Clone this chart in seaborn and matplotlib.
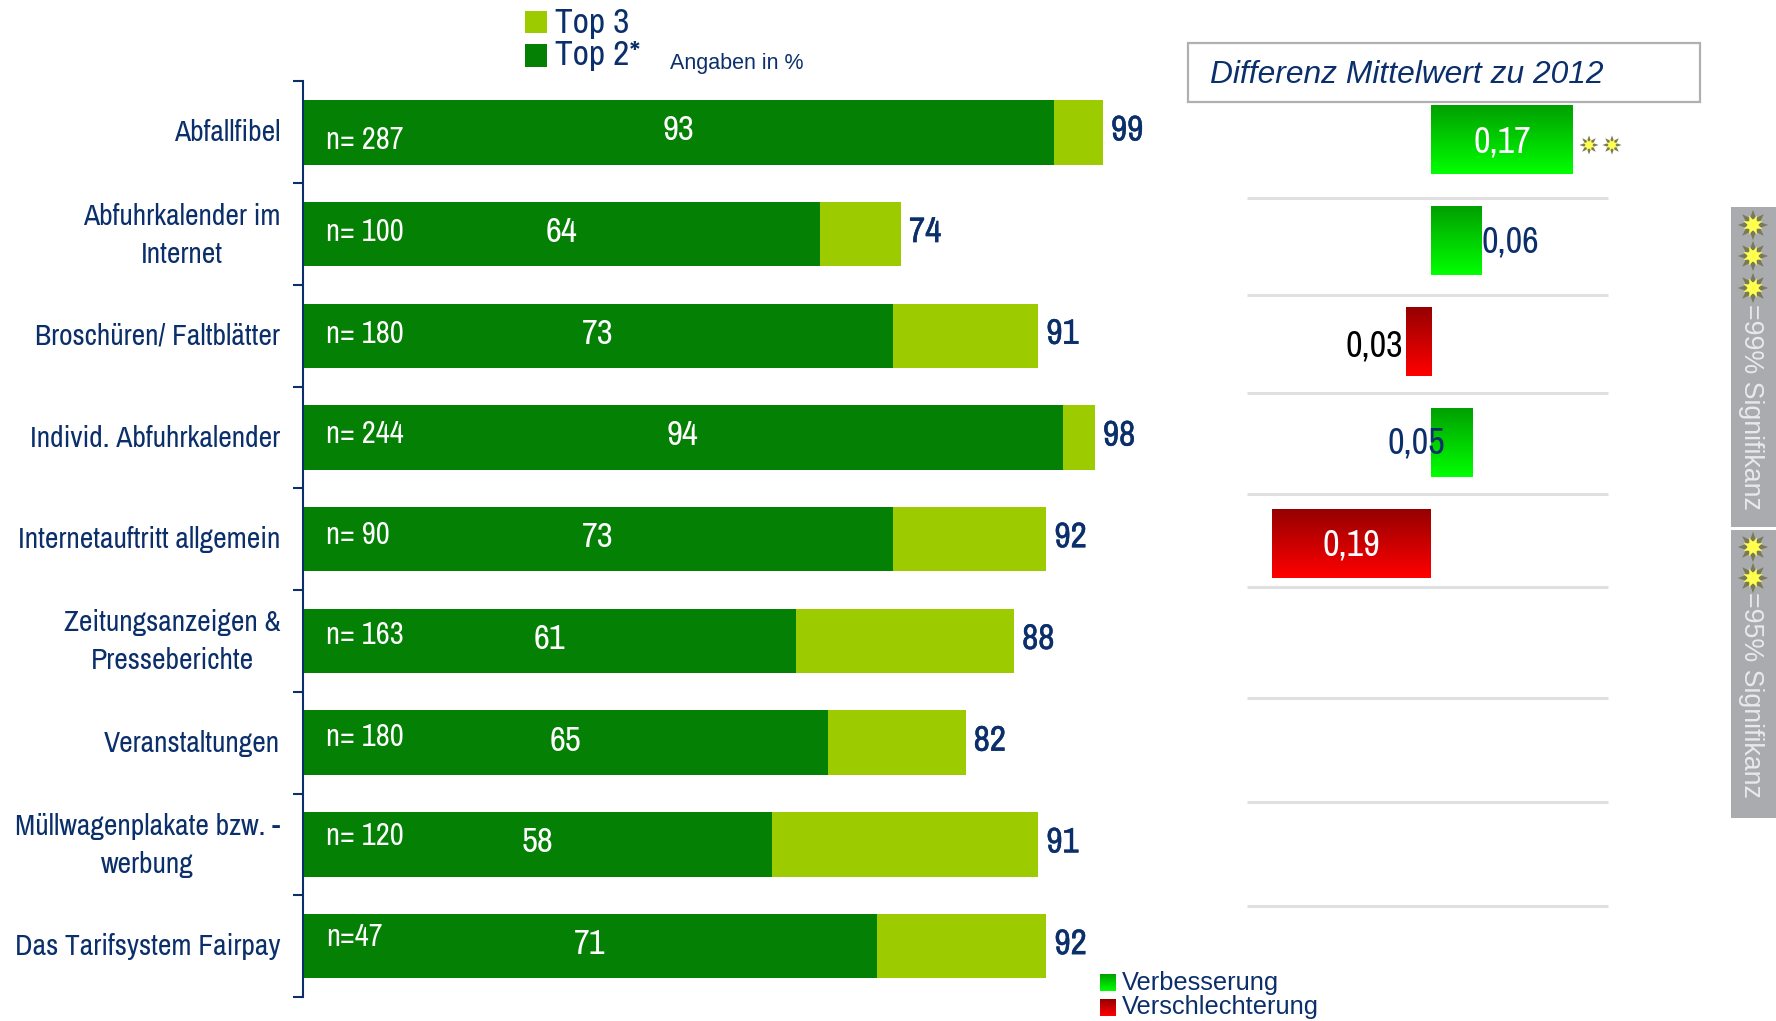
import numpy as np
import pandas as pd
import seaborn as sns
from matplotlib import pyplot as plt
from matplotlib import font_manager
from matplotlib import patheffects
from matplotlib.colors import LinearSegmentedColormap
from matplotlib.patches import Rectangle
from matplotlib.transforms import ScaledTranslation

# data
kategorien = ['Abfallfibel', 'Abfuhrkalender im\nInternet', 'Broschüren/ Faltblätter',
              'Individ. Abfuhrkalender', 'Internetauftritt allgemein',
              'Zeitungsanzeigen &\nPresseberichte', 'Veranstaltungen',
              'Müllwagenplakate bzw. -\nwerbung', 'Das Tarifsystem Fairpay']
top2 = [93, 64, 73, 94, 73, 61, 65, 58, 71]
top3 = [99, 74, 91, 98, 92, 88, 82, 91, 92]
n_text = ['n= 287', 'n= 100', 'n= 180', 'n= 244', 'n= 90', 'n= 163', 'n= 180', 'n= 120', 'n=47']
differenz = [0.17, 0.06, -0.03, 0.05, -0.19, np.nan, np.nan, np.nan, np.nan]
diff_text = ['0,17', '0,06', '0,03', '0,05', '0,19']

# layout, in pixels of the reference
n_versatz = [8, -2, -2, -4, -4, -6, -6, -8, -9]
trenner_y = [198, 295, 393, 494, 587, 698, 802, 906]

NAVY = '#0B2F6B'
DUNKEL = '#048004'
HELL = '#9CCC00'
GRAU = '#A9ABAF'
W, H = 1776, 1021

sns.set_style('white')
namen = {f.name for f in font_manager.fontManager.ttflist}
SCHMAL = next((n for n in ['Archivo Narrow', 'PT Sans Narrow', 'Roboto Condensed', 'Roboto'] if n in namen), 'DejaVu Sans')
plt.rcParams['font.family'] = ['Liberation Sans', 'DejaVu Sans']

gruen = LinearSegmentedColormap.from_list('gruen', ['#00A000', '#00FF00'])
rot = LinearSegmentedColormap.from_list('rot', ['#960000', '#FF0000'])
verlauf = np.linspace(0, 1, 64).reshape(-1, 1)

df = pd.DataFrame({'kat': kategorien, 'top2': top2, 'top3': top3, 'diff': differenz})

fig = plt.figure(figsize=(W / 100, H / 100), dpi=100, facecolor='white')


def achse(x0, y0, x1, y1):
    return fig.add_axes([x0 / W, 1 - y1 / H, (x1 - x0) / W, (y1 - y0) / H])


def sterne(xs, ys, groesse):
    # grey spikes with a yellow centre
    deko.scatter(xs, ys, marker=(8, 1, 0), s=groesse, facecolor='#7A7A58', edgecolor='none')
    deko.scatter(xs, ys, marker=(8, 1, 22.5), s=groesse * 0.45, facecolor='#FFFF50', edgecolor='none')
    deko.scatter(xs, ys, marker='o', s=groesse * 0.13, facecolor='#FFFF50', edgecolor='none')


# overlay in pixel coordinates for box, legends and stars
deko = fig.add_axes([0, 0, 1, 1], zorder=5)
deko.set_xlim(0, W)
deko.set_ylim(H, 0)
deko.axis('off')
deko.patch.set_alpha(0)

# left chart: total behind, top 2 in front
ax = achse(303, 81.5, 1111, 997)
sns.barplot(data=df, y='kat', x='top3', color=HELL, saturation=1, width=0.634, linewidth=0, ax=ax)
sns.barplot(data=df, y='kat', x='top2', color=DUNKEL, saturation=1, width=0.634, linewidth=0, ax=ax)
ax.set_xlim(0, 100)
ax.set_ylim(8.5, -0.5)
ax.set_xlabel('')
ax.set_ylabel('')
ax.set_xticks([])
for s in ['top', 'right', 'bottom']:
    ax.spines[s].set_visible(False)
ax.spines['left'].set_color(NAVY)
ax.spines['left'].set_linewidth(1.5)
ax.set_yticks(np.arange(-0.5, 9), minor=True)
ax.tick_params(axis='y', which='minor', left=True, length=7, width=1.5, color=NAVY)
ax.tick_params(axis='y', which='major', left=False, pad=12.8)
for lab in ax.get_yticklabels():
    lab.set_fontfamily(SCHMAL)
    lab.set_fontsize(21.3)
    lab.set_color(NAVY)
    lab.set_multialignment('center')
    lab.set_linespacing(1.5)
    hoch = 7 if '\n' in lab.get_text() else 2
    lab.set_transform(lab.get_transform() + ScaledTranslation(0, hoch / 100, fig.dpi_scale_trans))

for i in range(len(kategorien)):
    ax.text(top2[i] / 2, i - 0.02, str(top2[i]), color='white', ha='center', va='center',
            fontsize=25, family=SCHMAL)
    ax.text(top3[i] + 1, i - 0.02, str(top3[i]), color=NAVY, ha='left', va='center',
            fontsize=25.5, family=SCHMAL,
            path_effects=[patheffects.withStroke(linewidth=0.35, foreground=NAVY)])
    ax.text(2.85, i + n_versatz[i] / 101.7, n_text[i], color='white', ha='left', va='center',
            fontsize=22, family=SCHMAL)

# right chart
ax2 = achse(1247, 89, 1608, 999)
sns.barplot(data=df, y='kat', x='diff', color='white', width=0.68, linewidth=0, ax=ax2)
ax2.axis('off')
for p in ax2.patches:
    b = p.get_width()
    if np.isnan(b) or b == 0:
        continue
    p.set_visible(False)
    ax2.imshow(verlauf, cmap=gruen if b > 0 else rot, aspect='auto', interpolation='bilinear',
               extent=(p.get_x(), p.get_x() + b, p.get_y() + p.get_height(), p.get_y()))
ax2.set_xlim(-184 / 835, 177 / 835)
ax2.set_ylim(8.5, -0.5)

ax2.text(differenz[0] / 2, 0.02, diff_text[0], color='white', ha='center', va='center', fontsize=26, family=SCHMAL)
ax2.text(differenz[1] + 0.001, 1.01, diff_text[1], color=NAVY, ha='left', va='center', fontsize=26, family=SCHMAL)
ax2.text(differenz[2] - 0.003, 2.04, diff_text[2], color='black', ha='right', va='center', fontsize=26, family=SCHMAL)
ax2.text(-0.018, 3, diff_text[3], color=NAVY, ha='center', va='center', fontsize=26, family=SCHMAL)
ax2.text(differenz[4] / 2, 4.01, diff_text[4], color='white', ha='center', va='center', fontsize=26, family=SCHMAL)

# separators
for y in trenner_y:
    deko.plot([1247, 1608], [y, y], color='#E0E0E0', lw=2.2, solid_capstyle='butt')

# header box
deko.add_patch(Rectangle((1188, 43), 512, 59, facecolor='white', edgecolor='#B0B0B0', lw=1.6))
deko.text(1210, 75, 'Differenz Mittelwert zu 2012', color=NAVY, fontsize=22.9, style='italic',
          ha='left', va='center')

# legend top
deko.add_patch(Rectangle((525, 11), 22, 22, facecolor=HELL, edgecolor='none'))
deko.add_patch(Rectangle((525, 44), 22, 23, facecolor=DUNKEL, edgecolor='none'))
deko.text(555, 23, 'Top 3', color=NAVY, fontsize=25.5, family=SCHMAL, ha='left', va='center')
deko.text(555, 55, 'Top 2*', color=NAVY, fontsize=25.5, family=SCHMAL, ha='left', va='center')
deko.text(670, 63, 'Angaben in %', color=NAVY, fontsize=15.5, ha='left', va='center')

# legend bottom
deko.imshow(verlauf, cmap=gruen, aspect='auto', extent=(1100, 1116, 991, 974))
deko.imshow(verlauf, cmap=rot, aspect='auto', extent=(1100, 1116, 1016, 999))
deko.set_xlim(0, W)
deko.set_ylim(H, 0)
deko.text(1122, 983, 'Verbesserung', color=NAVY, fontsize=18.3, ha='left', va='center')
deko.text(1122, 1007, 'Verschlechterung', color=NAVY, fontsize=18.3, ha='left', va='center')

# side panel
deko.add_patch(Rectangle((1731, 207), 45, 320, facecolor=GRAU, edgecolor='none'))
deko.add_patch(Rectangle((1731, 530), 45, 288, facecolor=GRAU, edgecolor='none'))
deko.text(1751, 407, '=99% Signifikanz', color='#E9E9E9', fontsize=19.3, rotation=270, ha='center', va='center')
deko.text(1751, 695, '=95% Signifikanz', color='#E9E9E9', fontsize=19.3, rotation=270, ha='center', va='center')
sterne([1753, 1753, 1753, 1753, 1753], [225, 256, 288, 547, 578], 480)
sterne([1589, 1612], [145, 145], 190)

fig.savefig('out.png', dpi=100)
